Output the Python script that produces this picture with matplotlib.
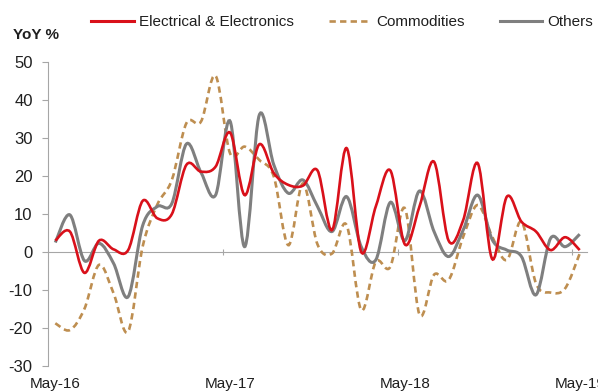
import matplotlib
matplotlib.use("Agg")
import matplotlib.pyplot as plt
import numpy as np
from matplotlib.path import Path
from matplotlib.patches import PathPatch
from matplotlib.lines import Line2D

# Monthly YoY %, May-16 .. May-19
tick_labels = ["May-16", "May-17", "May-18", "May-19"]
electrical = [3, 5.4, -5.5, 3.0, 0.7, 0.5, 13.5, 8.9, 10, 23, 21.2, 22.5, 31.5,
              15, 28.4, 20.8, 17.7, 17.5, 21.5, 5.8, 27.4, 0, 12, 21.5, 2,
              12, 23.8, 3, 8.4, 23.4, -1.9, 14.6, 8, 5.4, 0.5, 3.9, 0.5]
commodities = [-18.8, -20.6, -15, -3.4, -10.9, -21, 1.5, 12.5, 19, 34, 34.4, 46.5, 26,
               27.8, 24.3, 19.9, 1.8, 18.1, 2, -0.4, 7.1, -15.3, -2.6, -3.9, 11.5,
               -16.5, -6, -7.4, 4, 12.4, 4, -2.1, 8, -8.3, -10.7, -9.6, -0.4]
others = [2.5, 9.8, -2.3, 2.3, -3, -11.8, 7, 12, 12.8, 28.5, 21, 15, 34.5,
          1.4, 36.1, 23, 15.5, 19, 12, 5.4, 14.6, 1.4, -2.1, 13.1, 3,
          16.1, 5.4, -1.2, 5.8, 15, 3.2, 0.5, -1.2, -11.3, 3.6, 1.4, 4.7]

red = "#D9101A"
tan = "#BE8E50"
grey = "#7F7F7F"


def smooth_path(y):
    # Excel-style smoothed line: Catmull-Rom segments as cubic Bezier curves
    x = np.arange(len(y), dtype=float)
    p = np.column_stack([x, np.asarray(y, dtype=float)])
    p_ext = np.vstack([p[0], p, p[-1]])
    verts = [p[0]]
    codes = [Path.MOVETO]
    for i in range(len(p) - 1):
        p0, p1, p2, p3 = p_ext[i], p_ext[i + 1], p_ext[i + 2], p_ext[i + 3]
        verts += [p1 + (p2 - p0) / 6, p2 - (p3 - p1) / 6, p2]
        codes += [Path.CURVE4] * 3
    return Path(verts, codes)


plt.rcParams["font.family"] = ["Liberation Sans", "DejaVu Sans"]
plt.rcParams["axes.unicode_minus"] = False
fig = plt.figure(figsize=(5.98, 3.91), dpi=100)
ax = fig.add_axes([0.0803, 0.0647, 0.9013, 0.7755])

ax.add_patch(PathPatch(smooth_path(commodities), fill=False, edgecolor=tan,
                       lw=1.9, linestyle=(0, (2.4, 1.6)), zorder=3))
ax.add_patch(PathPatch(smooth_path(others), fill=False, edgecolor=grey,
                       lw=2.2, zorder=4))
ax.add_patch(PathPatch(smooth_path(electrical), fill=False, edgecolor=red,
                       lw=1.9, zorder=5))

n = len(electrical)
ax.set_xlim(-0.5, n - 0.5)
ax.set_ylim(-30, 50)
ax.set_yticks(np.arange(-30, 51, 10))
ax.set_xticks([0, 12, 24, 36])
ax.set_xticklabels(tick_labels)

for s in ["top", "right", "bottom"]:
    ax.spines[s].set_visible(False)
ax.spines["left"].set_color("#A6A6A6")
ax.tick_params(axis="y", colors="#A6A6A6", length=4, width=0.8, pad=7,
               labelcolor="#1F1F1F", labelsize=12)
ax.tick_params(axis="x", length=0, pad=8, labelcolor="#1F1F1F", labelsize=11)

# zero line with category tick marks
zero = ax.secondary_xaxis((0 + 30) / 80)
zero.spines["bottom"].set_color("#A6A6A6")
zero.set_xticks([11.5, 23.5, 35.5])
zero.set_xticklabels([])
zero.tick_params(length=4, direction="inout", colors="#A6A6A6", width=0.8)

fig.text(0.022, 0.91, "YoY %", fontsize=11, fontweight="bold",
         color="#1F1F1F", va="center")

handles = [Line2D([], [], color=red, lw=2.2),
           Line2D([], [], color=tan, lw=1.9, linestyle=(0, (2.4, 1.6))),
           Line2D([], [], color=grey, lw=2.2)]
fig.legend(handles, ["Electrical & Electronics", "Commodities", "Others"],
           loc="center", bbox_to_anchor=(0.572, 0.944), ncol=3, frameon=False,
           fontsize=11, handlelength=2.8, handletextpad=0.3,
           columnspacing=2.3, labelcolor="#1F1F1F")

fig.savefig("out.png", dpi=100)
